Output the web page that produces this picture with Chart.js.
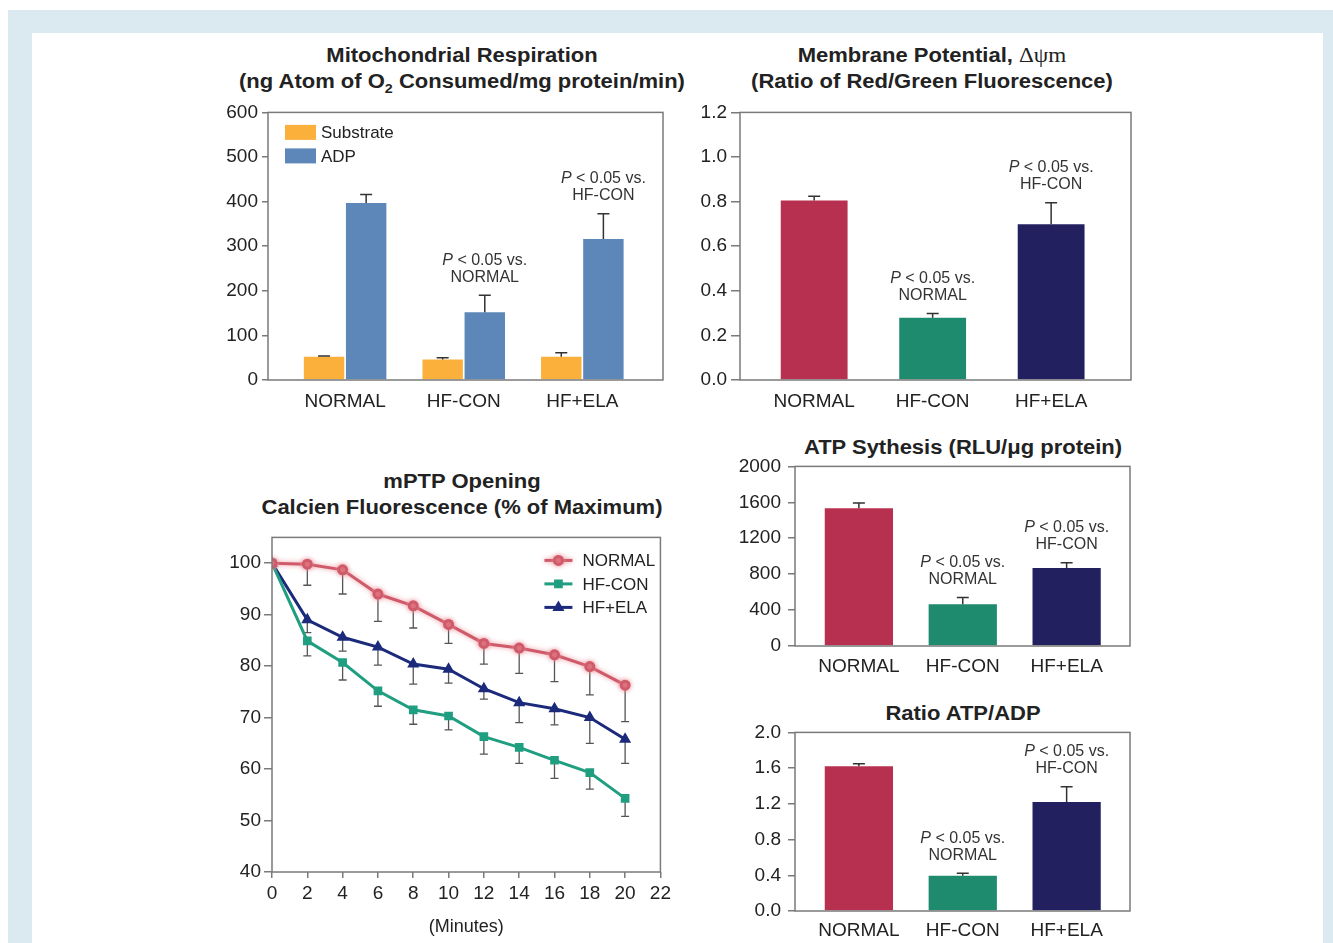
<!DOCTYPE html>
<html>
<head>
<meta charset="utf-8">
<script src="https://cdn.jsdelivr.net/npm/chart.js@4.4.1/dist/chart.umd.min.js"></script>
<style>
  html, body { margin: 0; padding: 0; background: #fff; }
  body { width: 1333px; height: 943px; position: relative; overflow: hidden; font-family: "Liberation Sans", Arial, sans-serif; }
  #frame { position: absolute; left: 8px; top: 10px; width: 1325px; height: 933px; background: #dbeaf0; }
  #panel { position: absolute; left: 32px; top: 33px; width: 1291px; height: 910px; background: #fff; }
  canvas { position: absolute; }
  .ttl { position: absolute; width: 600px; text-align: center; font-weight: bold; font-size: 20px; line-height: 26px;
         color: #222; transform: scaleX(1.1); transform-origin: center; white-space: nowrap; }
  .greek { font-family: "Liberation Serif", serif; font-weight: normal; font-size: 21px; }
</style>
</head>
<body>
<div id="frame"></div>
<div id="panel"></div>

<div class="ttl" style="left:162px;top:42px">Mitochondrial Respiration<br>(ng Atom of O<sub style="font-size:13px;line-height:0">2</sub> Consumed/mg protein/min)</div>
<div class="ttl" style="left:632px;top:42px">Membrane Potential, <span class="greek">Δψm</span><br>(Ratio of Red/Green Fluorescence)</div>
<div class="ttl" style="left:162px;top:468px">mPTP Opening<br>Calcien Fluorescence (% of Maximum)</div>
<div class="ttl" style="left:663px;top:434px">ATP Sythesis (RLU/μg protein)</div>
<div class="ttl" style="left:663px;top:700px">Ratio ATP/ADP</div>

<canvas id="resp"></canvas>
<canvas id="memb"></canvas>
<canvas id="mptp"></canvas>
<canvas id="atps"></canvas>
<canvas id="ratio"></canvas>

<script>
// groups on the x axis of the bar panels
const groups = ['NORMAL', 'HF-CON', 'HF+ELA'];
const groupPos = [1, 2, 3];
const groupColors = ['#b8304f', '#1e8a6e', '#232060'];
// text under "P < 0.05 vs." for each group
const vsNotes = [null, 'NORMAL', 'HF-CON'];

// mitochondrial respiration
const substrate = [52, 46, 52];
const substrateErr = [54, 50, 61];
const adp = [397, 152, 316];
const adpErr = [416, 190, 373];

// membrane potential
const membrane = [0.805, 0.279, 0.698];
const membraneErr = [0.824, 0.298, 0.795];

// ATP synthesis
const atpSynth = [1534, 466, 869];
const atpSynthErr = [1593, 540, 928];

// ATP/ADP ratio
const atpAdp = [1.62, 0.396, 1.22];
const atpAdpErr = [1.65, 0.422, 1.39];

// mPTP opening
const minutes = [0, 2, 4, 6, 8, 10, 12, 14, 16, 18, 20];
const normalLine = [100, 99.8, 98.7, 94.0, 91.7, 88.1, 84.4, 83.5, 82.2, 79.9, 76.3];
const normalLow = [null, 95.7, 94.0, 88.7, 87.4, 84.4, 80.4, 78.6, 77.0, 74.4, 69.2];
const hfconLine = [100, 84.9, 80.7, 75.2, 71.5, 70.3, 66.3, 64.2, 61.7, 59.3, 54.3];
const hfconLow = [null, 82.0, 77.3, 72.2, 68.7, 67.6, 62.9, 61.1, 58.2, 56.1, 50.8];
const hfelaLine = [100, 89.0, 85.6, 83.7, 80.4, 79.4, 75.6, 72.9, 71.7, 70.0, 65.8];
const hfelaLow = [null, 86.5, 82.9, 80.2, 76.5, 76.7, 73.6, 69.0, 68.6, 65.0, 61.1];

const fam = '"Liberation Sans", Arial, sans-serif';
const tickSize = 19;
const axisGray = '#7a7a7a';
const textColor = '#222';
const yAxisWidth = 58;

// size and place a canvas so its plot area lands on the given page box
// (Chart.js keeps half a tick label plus the tick padding above the y axis)
function place(id, area, yPad, xHeight, rightPad) {
  const c = document.getElementById(id);
  const topInset = tickSize * 1.2 / 2 + yPad;
  c.width = yAxisWidth + (area.right - area.left) + rightPad;
  c.height = Math.round(topInset + (area.bottom - area.top) + xHeight);
  c.style.left = (area.left - yAxisWidth) + 'px';
  c.style.top = (area.top - topInset) + 'px';
  return c;
}

// box round the plot area
const framePlugin = {
  id: 'frame',
  afterDraw(chart) {
    const a = chart.chartArea, ctx = chart.ctx;
    ctx.save();
    ctx.strokeStyle = axisGray;
    ctx.lineWidth = 1.5;
    ctx.strokeRect(a.left, a.top, a.right - a.left, a.bottom - a.top);
    ctx.restore();
  }
};

// upper error bars on bars
const barErrors = {
  id: 'barErrors',
  afterDatasetsDraw(chart) {
    const ctx = chart.ctx, y = chart.scales.y;
    chart.data.datasets.forEach((ds, di) => {
      if (!ds.errTop) return;
      chart.getDatasetMeta(di).data.forEach((bar, i) => {
        const yTop = y.getPixelForValue(ds.errTop[i]);
        ctx.save();
        ctx.strokeStyle = '#333';
        ctx.lineWidth = 1.5;
        ctx.beginPath();
        ctx.moveTo(bar.x, bar.y);
        ctx.lineTo(bar.x, yTop);
        ctx.moveTo(bar.x - 6, yTop);
        ctx.lineTo(bar.x + 6, yTop);
        ctx.stroke();
        ctx.restore();
      });
    });
  }
};

// "P < 0.05 vs." notes above the last dataset
const pNotes = {
  id: 'pNotes',
  afterDatasetsDraw(chart) {
    const di = chart.data.datasets.length - 1;
    const ds = chart.data.datasets[di];
    const meta = chart.getDatasetMeta(di);
    const ctx = chart.ctx;
    const rest = ' < 0.05 vs.';
    vsNotes.forEach((txt, i) => {
      if (!txt) return;
      const x = meta.data[i].x;
      const yCap = chart.scales.y.getPixelForValue(ds.errTop[i]);
      ctx.save();
      ctx.fillStyle = '#333';
      ctx.textBaseline = 'middle';
      ctx.font = 'italic 16px ' + fam;
      const wP = ctx.measureText('P').width;
      ctx.font = '16px ' + fam;
      const wR = ctx.measureText(rest).width;
      const x0 = x - (wP + wR) / 2;
      ctx.textAlign = 'left';
      ctx.font = 'italic 16px ' + fam;
      ctx.fillText('P', x0, yCap - 35);
      ctx.font = '16px ' + fam;
      ctx.fillText(rest, x0 + wP, yCap - 35);
      ctx.textAlign = 'center';
      ctx.fillText(txt, x, yCap - 18);
      ctx.restore();
    });
  }
};

// box legend for the respiration panel
const boxLegend = {
  id: 'boxLegend',
  afterDraw(chart) {
    const a = chart.chartArea, ctx = chart.ctx;
    chart.data.datasets.forEach((ds, i) => {
      const y = a.top + 20 + i * 23.5;
      ctx.save();
      ctx.fillStyle = ds.backgroundColor;
      ctx.fillRect(a.left + 17, y - 7.5, 31, 15);
      ctx.fillStyle = textColor;
      ctx.font = '17px ' + fam;
      ctx.textBaseline = 'middle';
      ctx.fillText(ds.label, a.left + 53, y + 1);
      ctx.restore();
    });
  }
};

function yAxis(max, step, decimals, tickLen, pad) {
  return {
    min: 0, max: max,
    border: { display: false },
    grid: { drawOnChartArea: false, drawTicks: true, tickLength: tickLen, color: axisGray, lineWidth: 1.5 },
    ticks: {
      stepSize: step, padding: pad, color: textColor, font: { family: fam, size: tickSize },
      callback: v => v.toFixed(decimals)
    },
    afterFit: s => { s.width = yAxisWidth; }
  };
}

function groupAxis(min, max, pad, height) {
  return {
    type: 'linear', min: min, max: max, bounds: 'data', offset: false,
    border: { display: false },
    grid: { display: false, drawTicks: false, offset: false },
    afterBuildTicks: s => { s.ticks = groupPos.map(v => ({ value: v })); },
    ticks: {
      padding: pad, color: textColor, font: { family: fam, size: tickSize },
      maxRotation: 0, autoSkip: false,
      callback: (v, i) => groups[i]
    },
    afterFit: s => { s.height = height; }
  };
}

function pts(values) {
  return groupPos.map((x, i) => ({ x: x, y: values[i] }));
}

const common = {
  responsive: false,
  animation: false,
  events: [],
  plugins: { legend: { display: false }, tooltip: { enabled: false } }
};
const pad0 = { top: 0, right: 12, left: 0, bottom: 0 };

// Mitochondrial respiration
new Chart(place('resp', { left: 268, right: 663, top: 112, bottom: 380 }, 4, 40, 12), {
  type: 'bar',
  data: {
    datasets: [
      { label: 'Substrate', data: pts(substrate), errTop: substrateErr, backgroundColor: '#fbb03b',
        categoryPercentage: 0.71, barPercentage: 0.96 },
      { label: 'ADP', data: pts(adp), errTop: adpErr, backgroundColor: '#5d87b9',
        categoryPercentage: 0.71, barPercentage: 0.96 }
    ]
  },
  options: {
    ...common,
    layout: { padding: pad0 },
    scales: { x: groupAxis(0.35, 3.68, 10, 40), y: yAxis(600, 100, 0, 6, 4) }
  },
  plugins: [framePlugin, barErrors, pNotes, boxLegend]
});

// Membrane potential
new Chart(place('memb', { left: 740, right: 1131, top: 112, bottom: 380 }, 4, 40, 12), {
  type: 'bar',
  data: {
    datasets: [
      { label: 'Δψm', data: pts(membrane), errTop: membraneErr, backgroundColor: groupColors,
        categoryPercentage: 0.564, barPercentage: 1 }
    ]
  },
  options: {
    ...common,
    layout: { padding: pad0 },
    scales: { x: groupAxis(0.374, 3.674, 10, 40), y: yAxis(1.2, 0.2, 1, 9, 4) }
  },
  plugins: [framePlugin, barErrors, pNotes]
});

// ATP synthesis
new Chart(place('atps', { left: 795, right: 1130, top: 466, bottom: 646 }, 7, 40, 12), {
  type: 'bar',
  data: {
    datasets: [
      { label: 'ATP', data: pts(atpSynth), errTop: atpSynthErr, backgroundColor: groupColors,
        categoryPercentage: 0.657, barPercentage: 1 }
    ]
  },
  options: {
    ...common,
    layout: { padding: pad0 },
    scales: { x: groupAxis(0.385, 3.61, 9, 40), y: yAxis(2000, 400, 0, 7, 7) }
  },
  plugins: [framePlugin, barErrors, pNotes]
});

// ATP/ADP ratio
new Chart(place('ratio', { left: 795, right: 1130, top: 732, bottom: 911 }, 7, 32, 12), {
  type: 'bar',
  data: {
    datasets: [
      { label: 'ATP/ADP', data: pts(atpAdp), errTop: atpAdpErr, backgroundColor: groupColors,
        categoryPercentage: 0.657, barPercentage: 1 }
    ]
  },
  options: {
    ...common,
    layout: { padding: pad0 },
    scales: { x: groupAxis(0.385, 3.61, 8, 32), y: yAxis(2.0, 0.4, 1, 7, 7) }
  },
  plugins: [framePlugin, barErrors, pNotes]
});

// mPTP opening: lower error bars, glow on NORMAL, and the line legend
const lineErrors = {
  id: 'lineErrors',
  beforeDatasetsDraw(chart) {
    const ctx = chart.ctx, y = chart.scales.y;
    chart.data.datasets.forEach((ds, di) => {
      chart.getDatasetMeta(di).data.forEach((pt, i) => {
        if (ds.low[i] == null) return;
        const yl = y.getPixelForValue(ds.low[i]);
        ctx.save();
        ctx.strokeStyle = '#555';
        ctx.lineWidth = 1.3;
        ctx.beginPath();
        ctx.moveTo(pt.x, pt.y);
        ctx.lineTo(pt.x, yl);
        ctx.moveTo(pt.x - 4, yl);
        ctx.lineTo(pt.x + 4, yl);
        ctx.stroke();
        ctx.restore();
      });
    });
  }
};

const glow = {
  id: 'glow',
  beforeDatasetDraw(chart, args) {
    if (!chart.data.datasets[args.index].glow) return;
    chart.ctx.save();
    chart.ctx.shadowColor = 'rgba(236, 140, 150, 0.9)';
    chart.ctx.shadowBlur = 5;
  },
  afterDatasetDraw(chart, args) {
    if (!chart.data.datasets[args.index].glow) return;
    chart.ctx.restore();
  }
};

const lineLegend = {
  id: 'lineLegend',
  afterDraw(chart) {
    const a = chart.chartArea, ctx = chart.ctx;
    chart.data.datasets.forEach((ds, i) => {
      const y = a.top + 23 + i * 23.5;
      const x0 = a.right - 116;
      ctx.save();
      if (ds.glow) {
        ctx.shadowColor = 'rgba(236, 140, 150, 0.9)';
        ctx.shadowBlur = 5;
      }
      ctx.strokeStyle = ds.borderColor;
      ctx.fillStyle = ds.borderColor;
      ctx.lineWidth = 3;
      ctx.beginPath();
      ctx.moveTo(x0, y);
      ctx.lineTo(x0 + 28, y);
      ctx.stroke();
      Chart.helpers.drawPoint(ctx, { pointStyle: ds.pointStyle, radius: 4, borderWidth: 1, rotation: 0 }, x0 + 14, y);
      ctx.restore();
      ctx.save();
      ctx.fillStyle = textColor;
      ctx.font = '17px ' + fam;
      ctx.textBaseline = 'middle';
      ctx.fillText(ds.label, a.right - 78, y + 1);
      ctx.restore();
    });
  }
};

function series(label, values, low, color, style) {
  return {
    label: label,
    data: minutes.map((m, i) => ({ x: m, y: values[i] })),
    low: low,
    borderColor: color,
    backgroundColor: color,
    pointBackgroundColor: color,
    pointBorderColor: color,
    pointStyle: style,
    pointRadius: 4,
    borderWidth: 3,
    tension: 0
  };
}

const normalSeries = series('NORMAL', normalLine, normalLow, '#cf5a69', 'circle');
normalSeries.glow = true;

new Chart(place('mptp', { left: 272, right: 661, top: 537, bottom: 872 }, 3, 70, 14), {
  type: 'line',
  data: {
    datasets: [
      normalSeries,
      series('HF-CON', hfconLine, hfconLow, '#1f9e80', 'rect'),
      series('HF+ELA', hfelaLine, hfelaLow, '#1c2a7c', 'triangle')
    ]
  },
  options: {
    ...common,
    layout: { padding: { top: 0, right: 14, left: 0, bottom: 0 } },
    scales: {
      x: {
        type: 'linear', min: 0, max: 22,
        border: { display: false },
        grid: { drawOnChartArea: false, drawTicks: true, tickLength: 6, color: axisGray, lineWidth: 1.5 },
        ticks: { stepSize: 2, padding: 4, color: textColor, font: { family: fam, size: tickSize }, maxRotation: 0 },
        title: { display: true, text: '(Minutes)', color: textColor, font: { family: fam, size: 18 },
                 padding: { top: 0, bottom: 4 } },
        afterFit: s => { s.height = 70; }
      },
      y: {
        min: 40, max: 105,
        border: { display: false },
        grid: { drawOnChartArea: false, drawTicks: true, tickLength: 8, color: axisGray, lineWidth: 1.5 },
        ticks: { stepSize: 10, padding: 3, color: textColor, font: { family: fam, size: tickSize } },
        afterBuildTicks: s => { s.ticks = s.ticks.filter(t => t.value <= 100); },
        afterFit: s => { s.width = yAxisWidth; }
      }
    }
  },
  plugins: [framePlugin, lineErrors, glow, lineLegend]
});
</script>
</body>
</html>
